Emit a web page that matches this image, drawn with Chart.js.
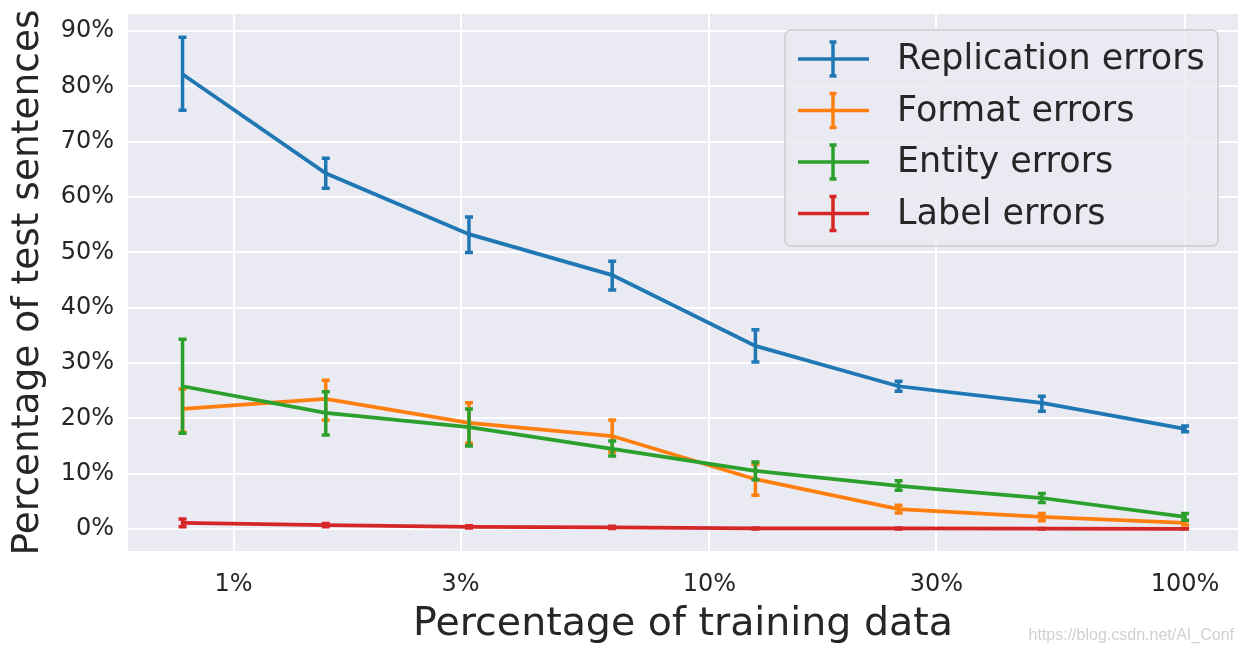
<!DOCTYPE html>
<html>
<head>
<meta charset="utf-8">
<script src="https://cdn.jsdelivr.net/npm/chart.js@4/dist/chart.umd.min.js"></script>
<style>
  html, body { margin: 0; padding: 0; background: #fff; }
  #wrap { position: relative; width: 1244px; height: 652px; }
  #mark { position: absolute; right: 10px; bottom: 8px; font: 16px "Liberation Sans", Arial, sans-serif; color: #d0d0d0; }
</style>
</head>
<body>
<div id="wrap">
  <canvas id="chart" width="1244" height="652"></canvas>
  <div id="mark">https://blog.csdn.net/AI_Conf</div>
</div>
<script>
// ===== DATA =====
const trainingShare = [0.78125, 1.5625, 3.125, 6.25, 12.5, 25, 50, 100];
const xTicks = [1, 3, 10, 30, 100];
const yTicks = [0, 10, 20, 30, 40, 50, 60, 70, 80, 90];

const replication     = [82.2, 64.3, 53.3, 45.9, 33.1, 25.8, 22.8, 18.1];
const replicationLow  = [75.7, 61.6, 50.0, 43.2, 30.2, 24.9, 21.3, 17.6];
const replicationHigh = [88.9, 67.0, 56.4, 48.4, 36.0, 26.7, 24.0, 18.6];

const format     = [21.7, 23.5, 19.2, 16.8, 9.0, 3.6, 2.2, 1.1];
const formatLow  = [17.5, 19.7, 15.5, 13.9, 6.1, 2.9, 1.5, 0.7];
const formatHigh = [25.3, 26.9, 22.8, 19.7, 11.7, 4.3, 2.8, 1.5];

const entity     = [25.8, 21.0, 18.4, 14.5, 10.5, 7.8, 5.6, 2.2];
const entityLow  = [17.3, 17.0, 15.0, 13.2, 8.9, 7.0, 4.8, 1.6];
const entityHigh = [34.3, 24.8, 21.7, 15.9, 12.1, 8.7, 6.4, 2.8];

const label     = [1.1, 0.7, 0.4, 0.3, 0.1, 0.1, 0.05, 0.0];
const labelLow  = [0.4, 0.4, 0.2, 0.1, 0.0, 0.0, 0.0, 0.0];
const labelHigh = [1.8, 1.0, 0.6, 0.5, 0.2, 0.2, 0.1, 0.05];

const FONT = '"DejaVu Sans", sans-serif';
const INK = '#262626';

const series = [
  { name: 'Replication errors', color: '#1f77b4', y: replication, lo: replicationLow, hi: replicationHigh },
  { name: 'Format errors',      color: '#ff7f0e', y: format,      lo: formatLow,      hi: formatHigh },
  { name: 'Entity errors',      color: '#2ca02c', y: entity,      lo: entityLow,      hi: entityHigh },
  { name: 'Label errors',       color: '#d62728', y: label,       lo: labelLow,       hi: labelHigh }
];

// plot background (seaborn darkgrid)
const plotBg = {
  id: 'plotBg',
  beforeDraw(chart) {
    const { ctx, chartArea: a } = chart;
    ctx.save();
    ctx.fillStyle = '#eaeaf2';
    ctx.fillRect(a.left, a.top, a.right - a.left, a.bottom - a.top);
    ctx.restore();
  }
};

// vertical error bars with caps, drawn right after each line
const errorBars = {
  id: 'errorBars',
  afterDatasetDraw(chart, args) {
    const s = series[args.index];
    const { ctx, scales: { x, y } } = chart;
    ctx.save();
    ctx.strokeStyle = s.color;
    ctx.lineWidth = 3.5;
    trainingShare.forEach((v, i) => {
      const px = x.getPixelForValue(v);
      const top = y.getPixelForValue(s.hi[i]);
      const bot = y.getPixelForValue(s.lo[i]);
      ctx.beginPath();
      ctx.moveTo(px, top); ctx.lineTo(px, bot);
      ctx.moveTo(px - 4, top); ctx.lineTo(px + 4, top);
      ctx.moveTo(px - 4, bot); ctx.lineTo(px + 4, bot);
      ctx.stroke();
    });
    ctx.restore();
  }
};

// legend box in the upper right
const legendBox = {
  id: 'legendBox',
  afterDraw(chart) {
    const ctx = chart.ctx;
    const x0 = 785, y0 = 30, w = 433, h = 216, r = 6;
    ctx.save();
    ctx.beginPath();
    ctx.roundRect(x0, y0, w, h, r);
    ctx.fillStyle = 'rgba(234,234,242,0.8)';
    ctx.fill();
    ctx.strokeStyle = '#cccccc';
    ctx.lineWidth = 1.5;
    ctx.stroke();
    ctx.font = '35px ' + FONT;
    ctx.textBaseline = 'middle';
    series.forEach((s, i) => {
      const cy = 59 + i * 51.5;
      ctx.strokeStyle = s.color;
      ctx.lineWidth = 3.5;
      ctx.beginPath();
      ctx.moveTo(798, cy); ctx.lineTo(869, cy);
      ctx.moveTo(833, cy - 17); ctx.lineTo(833, cy + 17);
      ctx.moveTo(829.5, cy - 17); ctx.lineTo(836.5, cy - 17);
      ctx.moveTo(829.5, cy + 17); ctx.lineTo(836.5, cy + 17);
      ctx.stroke();
      ctx.fillStyle = INK;
      ctx.fillText(s.name, 897, cy + 1);
    });
    ctx.restore();
  }
};

new Chart(document.getElementById('chart'), {
  type: 'line',
  data: {
    datasets: series.map((s, i) => ({
      label: s.name,
      data: trainingShare.map((v, k) => ({ x: v, y: s.y[k] })),
      borderColor: s.color,
      borderWidth: 3.75,
      pointRadius: 0,
      tension: 0,
      order: series.length - i
    }))
  },
  options: {
    responsive: false,
    animation: false,
    layout: { padding: { top: 14, right: 6, left: 0, bottom: 0 } },
    plugins: { legend: { display: false }, tooltip: { enabled: false } },
    scales: {
      x: {
        type: 'logarithmic',
        min: 0.608, max: 129.2,
        afterBuildTicks(scale) { scale.ticks = xTicks.map(v => ({ value: v })); },
        afterFit(scale) { scale.height = 101; scale.paddingLeft = 0; scale.paddingRight = 0; },
        grid: { color: '#ffffff', lineWidth: 2, drawTicks: false },
        border: { display: false },
        ticks: { color: INK, font: { family: FONT, size: 24 }, padding: 19, maxRotation: 0, autoSkip: false,
                 callback: v => v + '%' },
        title: { display: true, text: 'Percentage of training data', color: INK,
                 font: { family: FONT, size: 39.5 }, padding: { top: 0, bottom: 4 } }
      },
      y: {
        min: -3.98, max: 93.1,
        afterBuildTicks(scale) { scale.ticks = yTicks.map(v => ({ value: v })); },
        afterFit(scale) { scale.width = 128; scale.paddingTop = 0; scale.paddingBottom = 0; },
        grid: { color: '#ffffff', lineWidth: 2, drawTicks: false },
        border: { display: false },
        ticks: { color: INK, font: { family: FONT, size: 24 }, padding: 14, callback: v => v + '%' },
        title: { display: true, text: 'Percentage of test sentences', color: INK,
                 font: { family: FONT, size: 37.5 }, padding: { top: 6, bottom: 0 } }
      }
    }
  },
  plugins: [plotBg, errorBars, legendBox]
});
</script>
</body>
</html>
